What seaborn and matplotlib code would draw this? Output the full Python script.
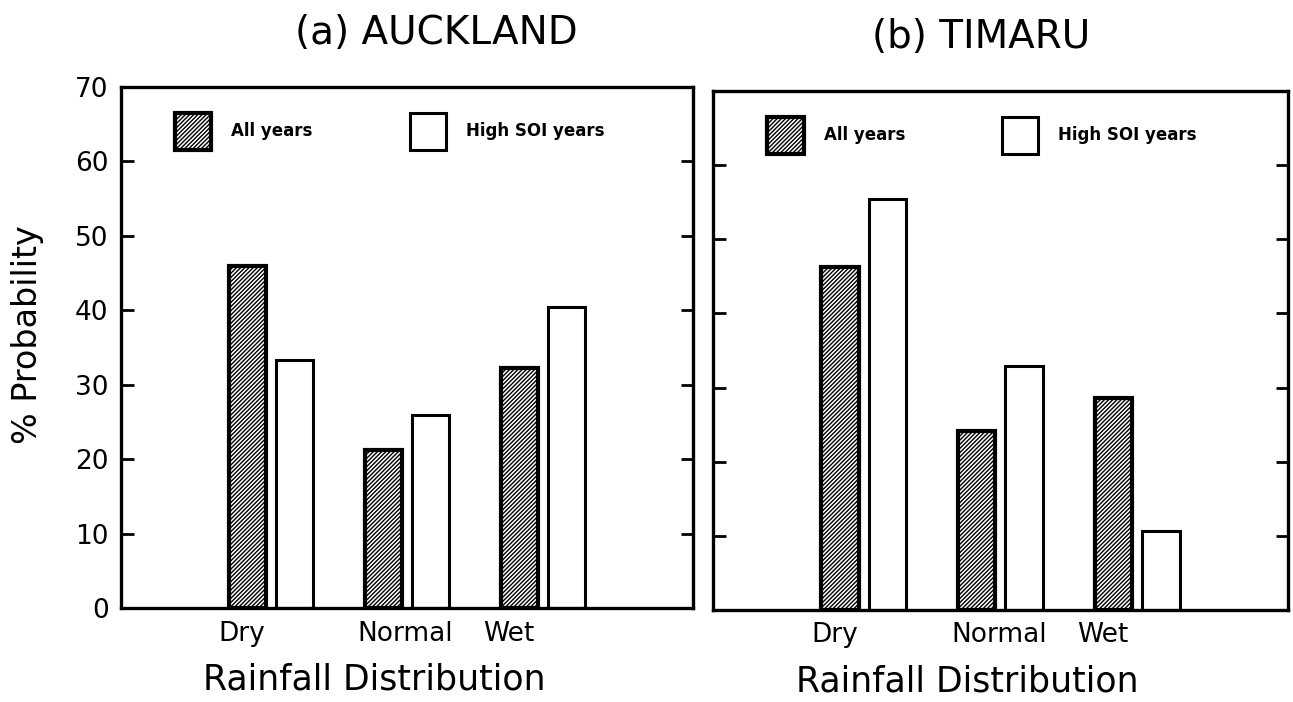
import numpy as np
import pandas as pd
import matplotlib
matplotlib.use("Agg")
import matplotlib.pyplot as plt
from matplotlib.patches import Patch
import seaborn as sns

# Rainfall categories and the two year groupings
categories = ["Dry", "Normal", "Wet"]
series = ["All years", "High SOI years"]

# % probability of each rainfall category
auckland_all = [46.0, 21.2, 32.3]
auckland_high = [33.3, 25.9, 40.4]
timaru_all = [46.2, 24.1, 28.6]
timaru_high = [55.4, 32.9, 10.6]

y_ticks = [0, 10, 20, 30, 40, 50, 60, 70]
panel_titles = ["(a) AUCKLAND", "(b) TIMARU"]
x_title = "Rainfall Distribution"
y_title = "% Probability"

sns.set_style("white")
plt.rcParams["font.family"] = ["DejaVu Sans"]
plt.rcParams["hatch.linewidth"] = 1.0
for key in ("text.color", "axes.labelcolor", "xtick.color", "ytick.color"):
    plt.rcParams[key] = "black"

fig = plt.figure(figsize=(12.93, 7.02), dpi=100)
ax_a = fig.add_axes([0.0936, 0.1339, 0.4424, 0.7422])
ax_b = fig.add_axes([0.5514, 0.1311, 0.4447, 0.7393])

panels = [
    (ax_a, auckland_all, auckland_high, panel_titles[0], 0.552, True),
    (ax_b, timaru_all, timaru_high, panel_titles[1], 0.466, False),
]

HATCH = "////////"

for ax, vals_all, vals_high, title, title_x, show_y in panels:
    df = pd.DataFrame({
        "Rainfall": categories * 2,
        "Series": np.repeat(series, len(categories)),
        "Probability": list(vals_all) + list(vals_high),
    })
    sns.barplot(
        data=df, x="Rainfall", y="Probability", hue="Series",
        order=categories, hue_order=series,
        palette=["white", "white"], edgecolor="black", linewidth=2.0,
        width=0.69, gap=0.21, errorbar=None, legend=False, ax=ax,
    )
    # hatched, heavier outline for the "All years" bars
    for bar in ax.containers[0]:
        bar.set_hatch(HATCH)
        bar.set_linewidth(3.0)
    for bar in ax.containers[1]:
        bar.set_linewidth(2.2)

    ax.set_xlim(-1.1, 3.1)
    ax.set_ylim(0, 70)
    ax.set_yticks(y_ticks)

    # category labels sit slightly left of the bar pairs
    ax.set_xticks([-0.21, 0.99, 1.75], categories)
    ax.tick_params(axis="x", length=0, pad=9, labelsize=19)
    ax.tick_params(axis="y", direction="in", left=True, right=True,
                   length=9, width=2.0, labelsize=19, pad=9,
                   labelleft=show_y)

    for sp in ax.spines.values():
        sp.set_visible(True)
        sp.set_linewidth(2.4)
        sp.set_color("black")

    ax.set_xlabel(x_title, fontsize=25)
    ax.xaxis.set_label_coords(0.442, -0.105)
    if show_y:
        ax.set_ylabel(y_title, fontsize=24)
        ax.yaxis.set_label_coords(-0.135, 0.524)
    else:
        ax.set_ylabel("")

    ax.set_title(title, fontsize=28, x=title_x, pad=31)

    handles = [
        Patch(facecolor="white", edgecolor="black", hatch=HATCH, linewidth=3.0),
        Patch(facecolor="white", edgecolor="black", linewidth=2.2),
    ]
    ax.legend(handles, series, loc="upper left", bbox_to_anchor=(0.094, 0.95),
              ncol=2, frameon=False, borderpad=0, borderaxespad=0,
              handlelength=2.2, handleheight=3.05, handletextpad=1.2,
              columnspacing=5.8, prop={"size": 12, "weight": "bold"})

fig.savefig("out.png", dpi=100)
